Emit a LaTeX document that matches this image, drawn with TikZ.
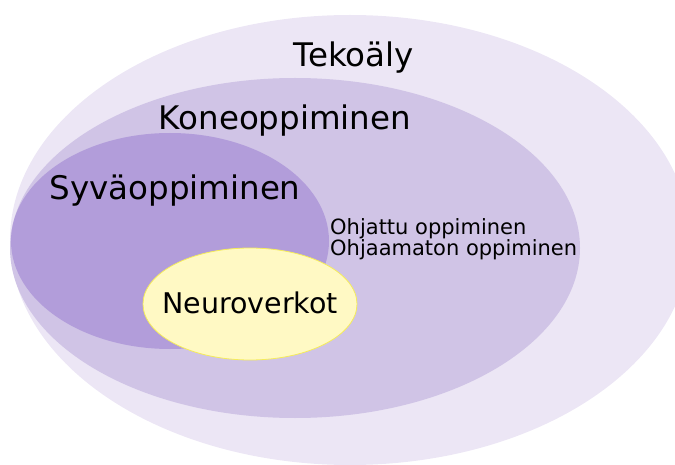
\documentclass[tikz,border=0pt]{standalone}
\usepackage{fontspec}
\setmainfont{DejaVu Sans}
\usetikzlibrary{shapes.geometric}
\definecolor{outerc}{RGB}{236,230,245}
\definecolor{midc}{RGB}{208,196,230}
\definecolor{innerc}{RGB}{178,157,218}
\definecolor{neurofill}{RGB}{255,249,196}
\definecolor{neurodraw}{RGB}{245,236,90}
\tikzset{
  bigtext/.style={font=\fontsize{32.5}{38}\selectfont, inner sep=0pt, anchor=base},
  smalltext/.style={font=\fontsize{21}{24}\selectfont, inner sep=0pt, anchor=base west},
  neuro/.style={ellipse, fill=neurofill, draw=neurodraw, line width=0.8pt, minimum width=214pt, minimum height=112pt, inner sep=0pt}
}
\begin{document}
\begin{tikzpicture}[x=1pt,y=-1pt]
\useasboundingbox (0,0) rectangle (675,465);
\begin{scope}
\clip (0,0) rectangle (675,465);
\fill[outerc] (350,240) ellipse [x radius=340, y radius=225];
\fill[midc] (295,248) ellipse [x radius=285, y radius=170];
\fill[innerc] (170,241) ellipse [x radius=159, y radius=108];
\end{scope}
\node[neuro] (neuro) at (250,304) {};
\node[bigtext] (tekoaly) at (354,67) {Tekoäly};
\node[bigtext] (kone) at (285,130) {Koneoppiminen};
\node[bigtext] (syva) at (175,200) {Syväoppiminen};
\node[font=\fontsize{28.5}{33}\selectfont, inner sep=0pt, anchor=base] (neurotext) at (250,313) {Neuroverkot};
\node[smalltext] (ohjattu) at (330,235) {Ohjattu oppiminen};
\node[smalltext] (ohjaamaton) at (330,255) {Ohjaamaton oppiminen};
\end{tikzpicture}
\end{document}
